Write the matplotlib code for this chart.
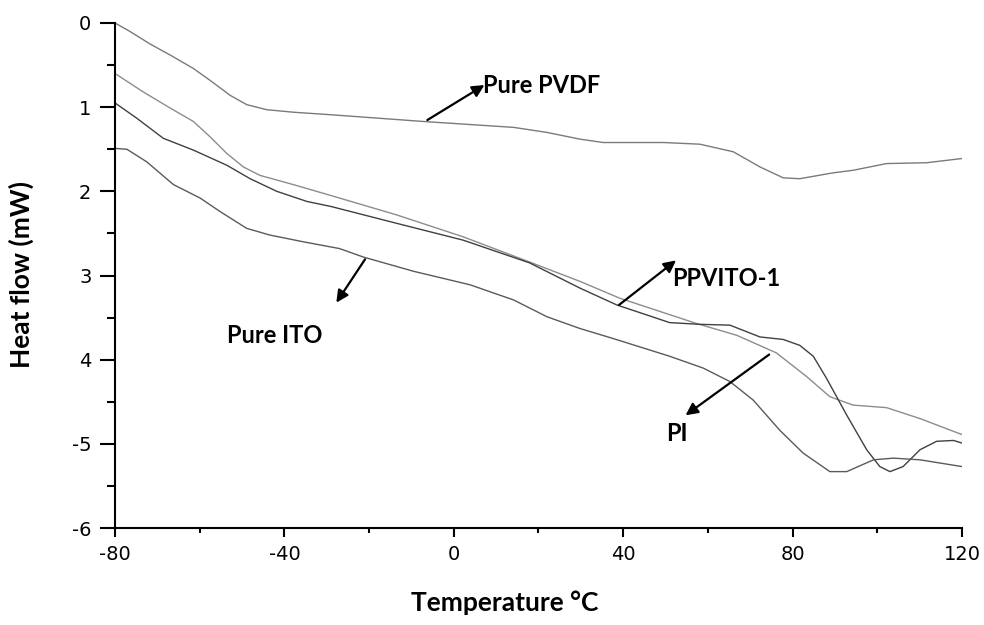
import matplotlib
matplotlib.use('Agg')
import matplotlib.pyplot as plt
from matplotlib.ticker import MultipleLocator

# 数据
t_pvdf = [-80, -76.5, -71.7, -67, -61.5, -57.6, -52.8, -48.9, -44.2, -37.9, -29, -7.2, 14.1, 22, 29.8, 35.3,
          41.6, 49.5, 58.1, 66, 72.3, 77.8, 81.7, 89.6, 94.3, 102.2, 111.7, 120]
hf_pvdf = [0, 0.10, 0.25, 0.38, 0.54, 0.68, 0.86, 0.97, 1.03, 1.06, 1.09, 1.17, 1.24, 1.30, 1.38, 1.42,
           1.42, 1.42, 1.44, 1.53, 1.71, 1.84, 1.85, 1.78, 1.75, 1.67, 1.66, 1.61]

t_pi = [-80, -73.3, -67, -61.5, -57.6, -53.6, -49.7, -45.8, -37.9, -29, -13.5, 2.2, 17.9, 29.8, 39.2,
        57.3, 66.8, 76.2, 83.3, 88.8, 94.3, 102.2, 110.1, 120]
hf_pi = [0.60, 0.82, 1.01, 1.17, 1.35, 1.55, 1.71, 1.81, 1.92, 2.05, 2.28, 2.54, 2.84, 3.07, 3.27,
         3.57, 3.71, 3.92, 4.20, 4.44, 4.54, 4.57, 4.70, 4.89]

t_ppv = [-80, -74.9, -68.6, -61.5, -53.6, -48.1, -41.8, -34.7, -29, -13.5, 2.2, 17.9, 29.8, 38.5, 51,
         58.1, 65.2, 72.3, 77.8, 81.7, 84.9, 88, 92.8, 97.5, 100.6, 103, 106.1, 110.1, 114, 118, 120]
hf_ppv = [0.95, 1.13, 1.37, 1.51, 1.69, 1.85, 2.00, 2.12, 2.18, 2.38, 2.58, 2.85, 3.15, 3.35, 3.56,
          3.58, 3.59, 3.73, 3.76, 3.83, 3.96, 4.22, 4.66, 5.07, 5.27, 5.33, 5.27, 5.07, 4.97, 4.96, 4.99]

t_ito = [-80, -77.2, -72.5, -66.2, -59.9, -55.2, -48.9, -43.4, -35.5, -27, -21.4, -9.5, 3.8, 14.1, 22,
         29.8, 37.7, 51, 58.9, 65.2, 70.7, 77, 82.5, 88.8, 92.8, 99.1, 103.8, 110.1, 120]
hf_ito = [1.49, 1.50, 1.65, 1.92, 2.08, 2.24, 2.44, 2.52, 2.60, 2.68, 2.78, 2.95, 3.11, 3.29, 3.49,
          3.63, 3.75, 3.96, 4.10, 4.26, 4.48, 4.84, 5.11, 5.33, 5.33, 5.19, 5.17, 5.19, 5.27]

y_ticks = [0, 1, 2, 3, 4, 5, 6]
y_ticklabels = ['0', '1', '2', '3', '4', '-5', '-6']
x_ticks = [-80, -40, 0, 40, 80, 120]

fig = plt.figure(figsize=(9.84, 6.25), dpi=100)
ax = fig.add_axes([0.1169, 0.1552, 0.8607, 0.808])

ax.plot(t_pvdf, hf_pvdf, color='#7a7a7a', lw=1.0)
ax.plot(t_pi, hf_pi, color='#8c8c8c', lw=1.0)
ax.plot(t_ppv, hf_ppv, color='#404040', lw=1.0)
ax.plot(t_ito, hf_ito, color='#5a5a5a', lw=1.0)

ax.set_xlim(-80, 120)
ax.set_ylim(6, 0)
ax.set_xticks(x_ticks)
ax.set_xticklabels([str(v) for v in x_ticks], fontfamily='DejaVu Sans', fontsize=14)
ax.set_yticks(y_ticks)
ax.set_yticklabels(y_ticklabels, fontfamily='DejaVu Sans', fontsize=14)
ax.xaxis.set_minor_locator(MultipleLocator(20))
ax.yaxis.set_minor_locator(MultipleLocator(0.5))
ax.tick_params(axis='y', which='major', length=11, width=1.5, direction='out', pad=6)
ax.tick_params(axis='y', which='minor', length=6, width=1.5, direction='out')
ax.tick_params(axis='x', which='major', length=6.5, width=1.5, direction='out', pad=6)
ax.tick_params(axis='x', which='minor', length=3.6, width=1.5, direction='out')
for s in ['top', 'right']:
    ax.spines[s].set_visible(False)
for s in ['left', 'bottom']:
    ax.spines[s].set_linewidth(1.5)

# 箭头和标注
arr = dict(arrowstyle='-|>', color='black', lw=1.6, mutation_scale=18)
lab = dict(fontfamily='Lato', fontweight='bold', fontsize=17, va='center', ha='left')
ax.annotate('', xy=(7.8, 0.72), xytext=(-6.8, 1.17), arrowprops=arr)
ax.text(6.9, 0.74, 'Pure PVDF', **lab)
ax.annotate('', xy=(-28.1, 3.35), xytext=(-20.6, 2.78), arrowprops=arr)
ax.text(-53.6, 3.71, 'Pure ITO', **lab)
ax.annotate('', xy=(53.0, 2.80), xytext=(38.5, 3.37), arrowprops=arr)
ax.text(51.6, 3.04, 'PPVITO-1', **lab)
ax.annotate('', xy=(54.2, 4.68), xytext=(75.0, 3.92), arrowprops=arr)
ax.text(50.2, 4.88, 'PI', **lab)

fig.text(0.022, 0.56, 'Heat flow (mW)', rotation=90, fontfamily='Lato', fontweight='bold',
         fontsize=19, ha='center', va='center')
fig.text(0.513, 0.035, 'Temperature \u00b0C', fontfamily='Lato', fontweight='bold',
         fontsize=19, ha='center', va='center')

fig.savefig('out.png', dpi=100)
